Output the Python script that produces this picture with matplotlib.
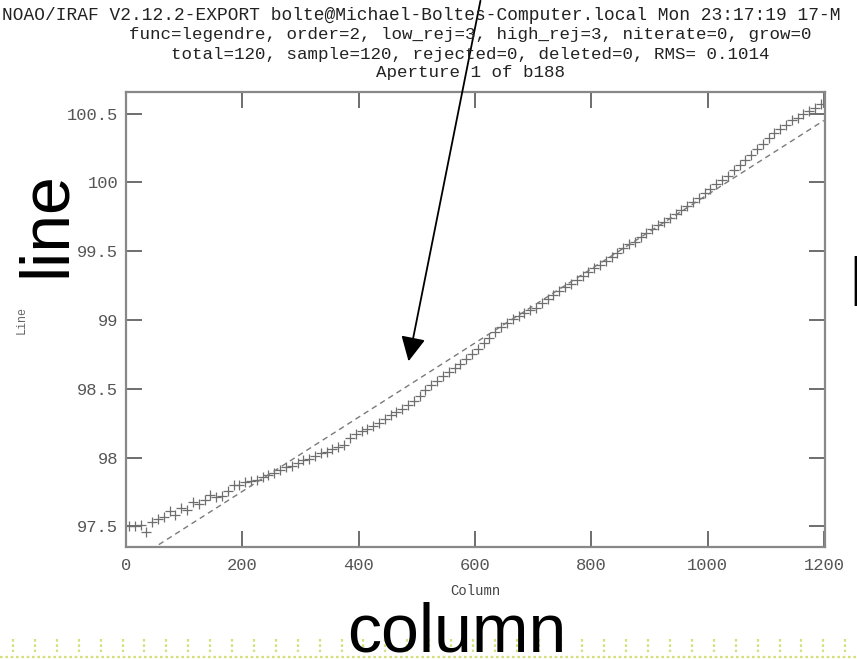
import numpy as np
import matplotlib
matplotlib.use("Agg")
import matplotlib.pyplot as plt
from matplotlib.lines import Line2D
from matplotlib.patches import FancyArrowPatch

# ---------------- data ----------------
columns = np.arange(5, 1200, 10)  # 120 sampled columns
line_vals = [
    97.50, 97.50, 97.51, 97.46, 97.53, 97.55, 97.57, 97.61, 97.58, 97.63,
    97.62, 97.68, 97.66, 97.69, 97.73, 97.71, 97.72, 97.76, 97.80, 97.80,
    97.82, 97.83, 97.84, 97.86, 97.87, 97.89, 97.91, 97.93, 97.94, 97.96,
    97.98, 97.99, 98.01, 98.03, 98.04, 98.06, 98.08, 98.09, 98.14, 98.17,
    98.19, 98.21, 98.23, 98.25, 98.28, 98.31, 98.33, 98.35, 98.38, 98.41,
    98.45, 98.49, 98.53, 98.56, 98.59, 98.62, 98.65, 98.68, 98.72, 98.75,
    98.79, 98.83, 98.87, 98.91, 98.95, 98.98, 99.01, 99.03, 99.05, 99.07,
    99.09, 99.12, 99.15, 99.18, 99.21, 99.24, 99.26, 99.29, 99.32, 99.35,
    99.38, 99.40, 99.43, 99.46, 99.49, 99.52, 99.55, 99.57, 99.60, 99.63,
    99.66, 99.69, 99.71, 99.74, 99.77, 99.80, 99.83, 99.86, 99.89, 99.92,
    99.95, 99.99, 100.02, 100.05, 100.09, 100.13, 100.16, 100.20, 100.24, 100.28,
    100.32, 100.36, 100.39, 100.42, 100.45, 100.47, 100.50, 100.52, 100.54, 100.57,
]
fit_cols = [0, 1200]
fit_vals = [97.215, 100.45]

x_ticks = [0, 200, 400, 600, 800, 1000, 1200]
y_ticks = [97.5, 98, 98.5, 99, 99.5, 100, 100.5]
y_tick_labels = ["97.5", "98", "98.5", "99", "99.5", "100", "100.5"]

title_lines = [
    "NOAO/IRAF V2.12.2-EXPORT bolte@Michael-Boltes-Computer.local Mon 23:17:19 17-M",
    "func=legendre, order=2, low_rej=3, high_rej=3, niterate=0, grow=0",
    "total=120, sample=120, rejected=0, deleted=0, RMS= 0.1014",
    "Aperture 1 of b188",
]

# ---------------- figure ----------------
W, H = 857, 659
fig = plt.figure(figsize=(W / 100, H / 100), dpi=100)
fig.patch.set_facecolor("white")

def fx(x):
    return x / W

def fy(y):
    return 1 - y / H

ax = fig.add_axes([fx(126), fy(547), (825 - 126) / W, (547 - 92) / H])
ax.set_xlim(0, 1202)
ax.set_ylim(97.35, 100.657)

ax.plot(columns, line_vals, linestyle="none", marker="+", markersize=7,
        mew=0.9, color="#6e6e6e")
ax.plot(fit_cols, fit_vals, linestyle=(0, (4, 3)), linewidth=1.0, color="#7a7a7a")

mono = "Liberation Mono"
ax.set_xticks(x_ticks)
ax.set_xticklabels([str(t) for t in x_ticks], fontfamily=mono, fontsize=12.3, color="#555555")
ax.set_yticks(y_ticks)
ax.set_yticklabels(y_tick_labels, fontfamily=mono, fontsize=12.3, color="#555555")
ax.tick_params(axis="both", direction="in", length=11.5, width=1.2, color="#555555",
               top=True, right=True)
ax.tick_params(axis="x", pad=8)
ax.tick_params(axis="y", pad=5.5)
for s in ax.spines.values():
    s.set_color("#888888")
    s.set_linewidth(1.6)

ax.set_xlabel("Column", fontfamily=mono, fontsize=10, color="#444444", labelpad=8)
fig.text(fx(22), fy(320), "Line", rotation=90, fontfamily=mono, fontsize=8.5,
         color="#666666", ha="center", va="center")

# ---------------- title ----------------
fig.text(fx(2), fy(15), title_lines[0], fontfamily=mono, fontsize=12.9,
         color="#222222", ha="left", va="center")
for txt, yy in zip(title_lines[1:], [35, 54, 73]):
    fig.text(fx(470), fy(yy), txt, fontfamily=mono, fontsize=12.6,
             color="#222222", ha="center", va="center")

# ---------------- annotations ----------------
big = "Liberation Sans"
fig.text(fx(65), fy(277), "line", rotation=90, rotation_mode="anchor",
         fontfamily=big, fontsize=49, color="black", ha="left", va="baseline")
fig.text(fx(347), fy(652), "column", fontfamily=big, fontsize=49,
         color="black", ha="left", va="baseline")
fig.text(fx(849.5), fy(306), "l", fontfamily=big, fontsize=49,
         color="black", ha="left", va="baseline")

arrow = FancyArrowPatch((fx(481), fy(-2)), (fx(408), fy(364)),
                        transform=fig.transFigure, arrowstyle="-|>",
                        mutation_scale=1, color="black", linewidth=1.3)
arrow.set_arrowstyle("-|>", head_length=15, head_width=7.5)
fig.add_artist(arrow)

# dotted decoration at bottom
deco = "#d6e07a"
for xx in np.arange(13, 857, 21.9):
    fig.add_artist(Line2D([fx(xx), fx(xx)], [fy(639), fy(652)], transform=fig.transFigure,
                          color=deco, linewidth=1.6, linestyle=(0, (1.2, 1.2))))
fig.add_artist(Line2D([0, 1], [fy(657), fy(657)], transform=fig.transFigure,
                      color=deco, linewidth=1.6, linestyle=(0, (1.2, 1.2))))

fig.savefig("out.png", dpi=100, facecolor="white")
